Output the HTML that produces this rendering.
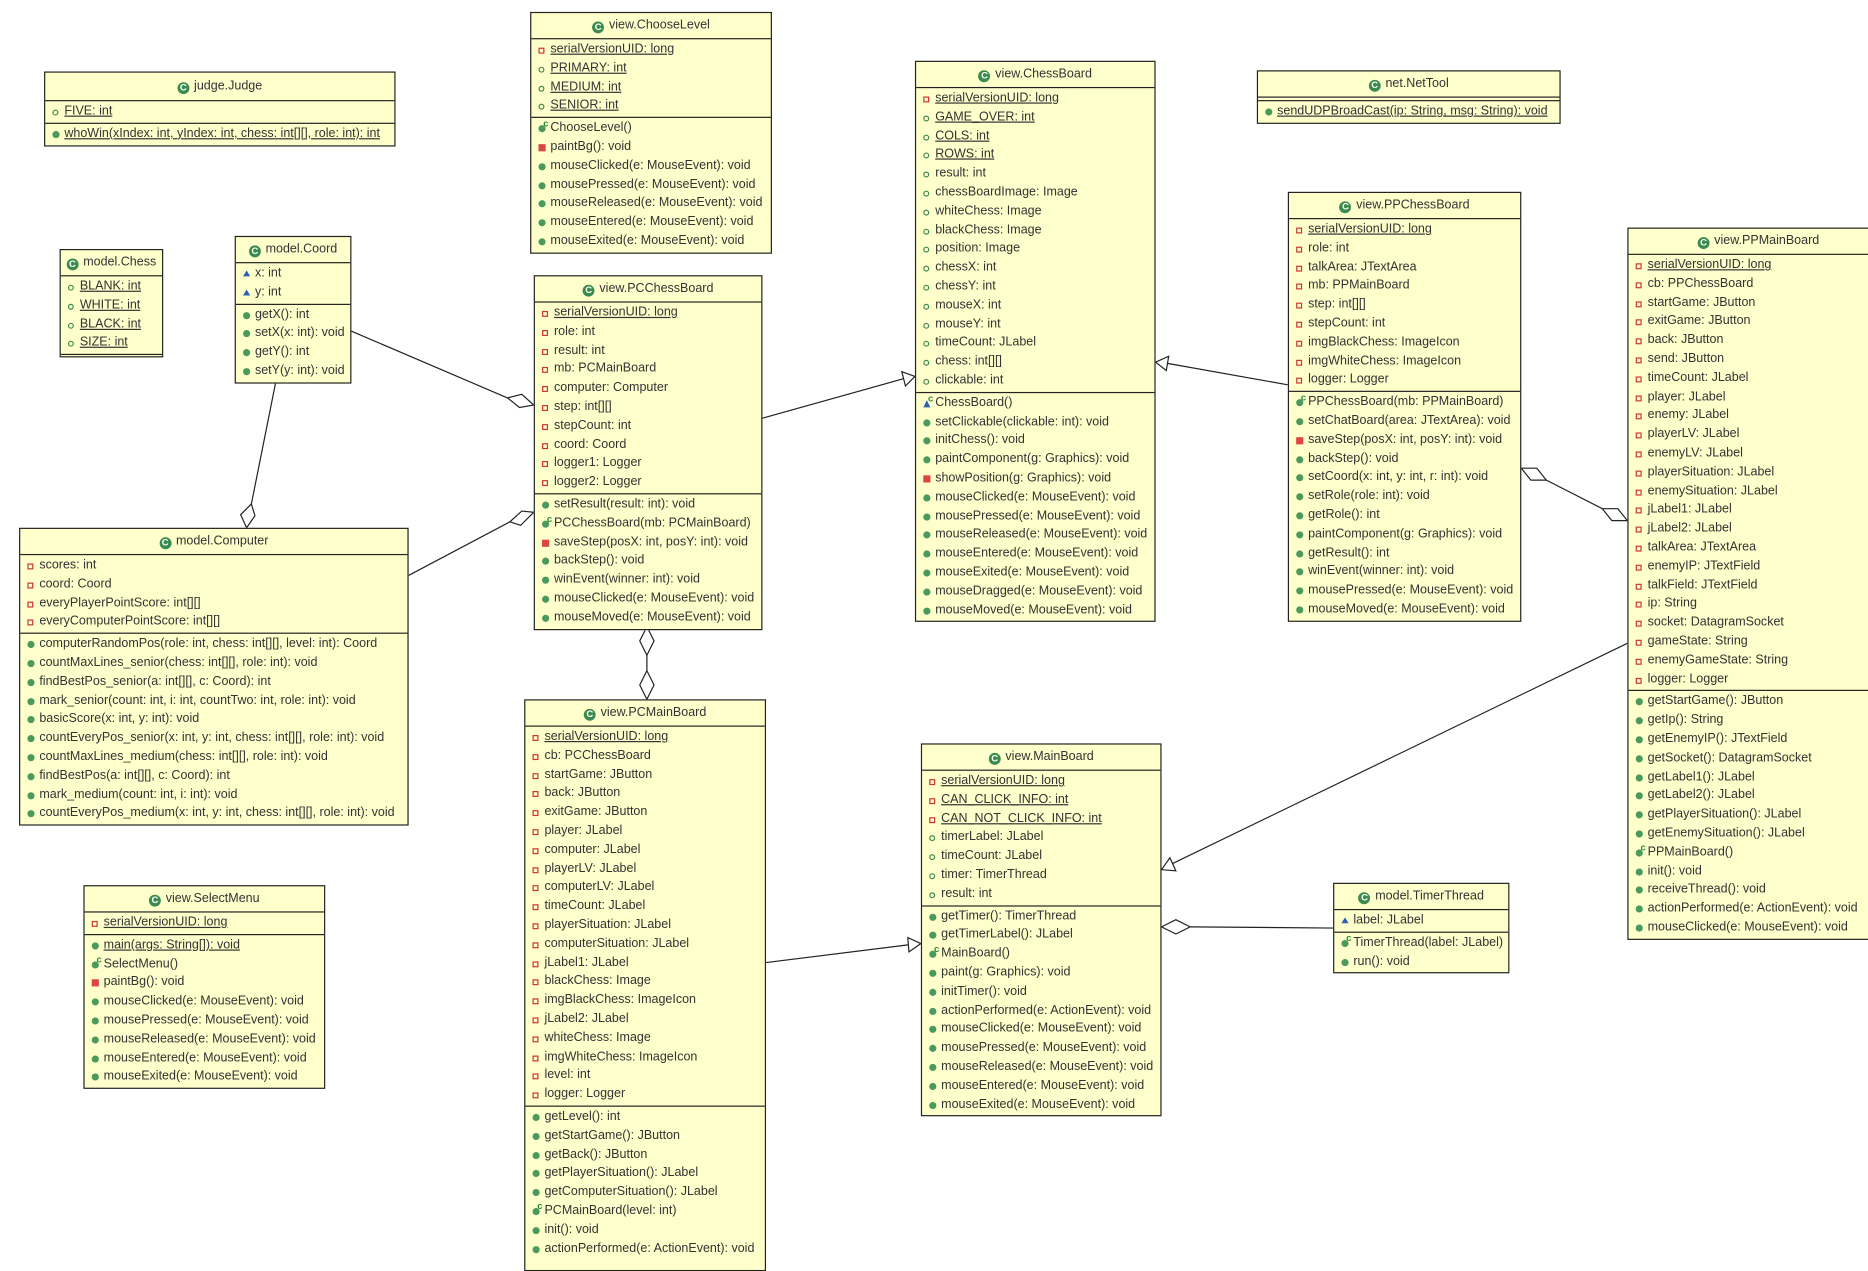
<!DOCTYPE html>
<html><head><meta charset="utf-8"><style>
html,body{margin:0;padding:0;background:#fff;width:1868px;height:1260px;overflow:hidden}
#w{position:absolute;left:0;top:0;width:1568px;height:1058px;transform:scale(1.19133);transform-origin:0 0;font-family:"Liberation Sans",sans-serif;font-size:10.5px;color:#333}
.b{position:absolute;background:#ffffcc;border:1px solid #222;box-sizing:border-box}
.h{height:21px;line-height:21px;text-align:center;color:#333}
.h:before{content:"C";display:inline-block;width:10px;height:10px;line-height:10px;border-radius:50%;background:#3b8a4e;color:#fff;font-size:8px;font-weight:bold;margin-right:4px;vertical-align:-1px}
.c{border-top:1px solid #222;padding:1px 0;min-height:2px}
.r{position:relative;height:15.8px;line-height:15.8px;padding-left:16px;white-space:nowrap}
.r:before{content:"";position:absolute;left:6px;top:6px;box-sizing:border-box}
.fp:before{width:5px;height:5px;border:1.3px solid #3b8a4e;border-radius:50%}
.mp:before{width:6px;height:6px;background:#4a9a5c;border-radius:50%;top:5px}
.fr:before{width:5px;height:5px;border:1.3px solid #c33}
.mr:before{width:6px;height:6px;background:#d44;top:5px}
.pt:before{width:0;height:0;border-left:3px solid transparent;border-right:3px solid transparent;border-bottom:5px solid #2a62b0;left:6px;top:5px}
.ct:after{content:"c";position:absolute;left:10px;top:-4px;font-size:8px;color:#2a8a3a;font-weight:bold}
.ct:before{width:6px;height:6px;background:#4a9a5c;border-radius:50%;top:5px}
.cp:after{content:"c";position:absolute;left:10px;top:-4px;font-size:8px;color:#2a8a3a;font-weight:bold}
.cp:before{width:0;height:0;border-left:3px solid transparent;border-right:3px solid transparent;border-bottom:6px solid #2a62b0;top:5px}
.u span{text-decoration:underline}
svg{position:absolute;left:0;top:0}
</style></head><body><div id="w">
<svg width="1568" height="1058" viewBox="0 0 1568 1058">
<g stroke="#222" stroke-width="1" fill="#fff">
<line x1="295" y1="278" x2="426" y2="334"/><polygon points="448,340 436,342 426,334 438,331"/>
<line x1="232" y1="318" x2="211" y2="423"/><polygon points="207,443 202,432 211,423 214,433"/>
<line x1="343" y1="483" x2="428" y2="438"/><polygon points="448,430 437,441 428,438 438,429"/>
<line x1="640" y1="351" x2="758" y2="318"/><polygon points="768,316 757,312 760,324"/>
<line x1="543" y1="550" x2="543" y2="563"/><polygon points="543,526 549,538 543,550 537,538"/><polygon points="543,563 549,575 543,587 537,575"/>
<line x1="643" y1="808" x2="763" y2="793"/><polygon points="773,792 762,787 763,799"/>
<line x1="1081" y1="323" x2="980" y2="305"/><polygon points="970,304 981,299 979,311"/>
<line x1="1298" y1="403" x2="1345" y2="427"/><polygon points="1277,393 1290,393 1298,403 1285,403"/><polygon points="1366,437 1353,437 1345,427 1358,427"/>
<line x1="1366" y1="540" x2="984" y2="725"/><polygon points="975,730 982,720 987,731"/>
<line x1="999" y1="778" x2="1119" y2="779"/><polygon points="975,778 987,772 999,778 987,784"/>
</g></svg>

<div class="b" style="left:37px;top:60px;width:295px"><div class="h" style="height:23px;line-height:23px">judge.Judge</div>
<div class="c"><div class="r fp u"><span>FIVE: int</span></div></div>
<div class="c"><div class="r mp u"><span>whoWin(xIndex: int, yIndex: int, chess: int[][], role: int): int</span></div></div></div>

<div class="b" style="left:50px;top:209px;width:87px"><div class="h">model.Chess</div>
<div class="c"><div class="r fp u"><span>BLANK: int</span></div><div class="r fp u"><span>WHITE: int</span></div><div class="r fp u"><span>BLACK: int</span></div><div class="r fp u"><span>SIZE: int</span></div></div>
<div class="c" style="min-height:1px;padding:0"></div></div>

<div class="b" style="left:197px;top:198px;width:98px"><div class="h">model.Coord</div>
<div class="c"><div class="r pt">x: int</div><div class="r pt">y: int</div></div>
<div class="c"><div class="r mp">getX(): int</div><div class="r mp">setX(x: int): void</div><div class="r mp">getY(): int</div><div class="r mp">setY(y: int): void</div></div></div>

<div class="b" style="left:16px;top:443px;width:327px"><div class="h">model.Computer</div>
<div class="c"><div class="r fr">scores: int</div><div class="r fr">coord: Coord</div><div class="r fr">everyPlayerPointScore: int[][]</div><div class="r fr">everyComputerPointScore: int[][]</div></div>
<div class="c"><div class="r mp">computerRandomPos(role: int, chess: int[][], level: int): Coord</div><div class="r mp">countMaxLines_senior(chess: int[][], role: int): void</div><div class="r mp">findBestPos_senior(a: int[][], c: Coord): int</div><div class="r mp">mark_senior(count: int, i: int, countTwo: int, role: int): void</div><div class="r mp">basicScore(x: int, y: int): void</div><div class="r mp">countEveryPos_senior(x: int, y: int, chess: int[][], role: int): void</div><div class="r mp">countMaxLines_medium(chess: int[][], role: int): void</div><div class="r mp">findBestPos(a: int[][], c: Coord): int</div><div class="r mp">mark_medium(count: int, i: int): void</div><div class="r mp">countEveryPos_medium(x: int, y: int, chess: int[][], role: int): void</div></div></div>

<div class="b" style="left:70px;top:743px;width:203px"><div class="h">view.SelectMenu</div>
<div class="c"><div class="r fr u"><span>serialVersionUID: long</span></div></div>
<div class="c"><div class="r mp u"><span>main(args: String[]): void</span></div><div class="r ct">SelectMenu()</div><div class="r mr">paintBg(): void</div><div class="r mp">mouseClicked(e: MouseEvent): void</div><div class="r mp">mousePressed(e: MouseEvent): void</div><div class="r mp">mouseReleased(e: MouseEvent): void</div><div class="r mp">mouseEntered(e: MouseEvent): void</div><div class="r mp">mouseExited(e: MouseEvent): void</div></div></div>

<div class="b" style="left:445px;top:10px;width:203px"><div class="h">view.ChooseLevel</div>
<div class="c"><div class="r fr u"><span>serialVersionUID: long</span></div><div class="r fp u"><span>PRIMARY: int</span></div><div class="r fp u"><span>MEDIUM: int</span></div><div class="r fp u"><span>SENIOR: int</span></div></div>
<div class="c"><div class="r ct">ChooseLevel()</div><div class="r mr">paintBg(): void</div><div class="r mp">mouseClicked(e: MouseEvent): void</div><div class="r mp">mousePressed(e: MouseEvent): void</div><div class="r mp">mouseReleased(e: MouseEvent): void</div><div class="r mp">mouseEntered(e: MouseEvent): void</div><div class="r mp">mouseExited(e: MouseEvent): void</div></div></div>

<div class="b" style="left:448px;top:231px;width:192px"><div class="h">view.PCChessBoard</div>
<div class="c"><div class="r fr u"><span>serialVersionUID: long</span></div><div class="r fr">role: int</div><div class="r fr">result: int</div><div class="r fr">mb: PCMainBoard</div><div class="r fr">computer: Computer</div><div class="r fr">step: int[][]</div><div class="r fr">stepCount: int</div><div class="r fr">coord: Coord</div><div class="r fr">logger1: Logger</div><div class="r fr">logger2: Logger</div></div>
<div class="c"><div class="r mp">setResult(result: int): void</div><div class="r ct">PCChessBoard(mb: PCMainBoard)</div><div class="r mr">saveStep(posX: int, posY: int): void</div><div class="r mp">backStep(): void</div><div class="r mp">winEvent(winner: int): void</div><div class="r mp">mouseClicked(e: MouseEvent): void</div><div class="r mp">mouseMoved(e: MouseEvent): void</div></div></div>

<div class="b" style="left:440px;top:587px;width:203px;height:480px;overflow:hidden"><div class="h">view.PCMainBoard</div>
<div class="c"><div class="r fr u"><span>serialVersionUID: long</span></div><div class="r fr">cb: PCChessBoard</div><div class="r fr">startGame: JButton</div><div class="r fr">back: JButton</div><div class="r fr">exitGame: JButton</div><div class="r fr">player: JLabel</div><div class="r fr">computer: JLabel</div><div class="r fr">playerLV: JLabel</div><div class="r fr">computerLV: JLabel</div><div class="r fr">timeCount: JLabel</div><div class="r fr">playerSituation: JLabel</div><div class="r fr">computerSituation: JLabel</div><div class="r fr">jLabel1: JLabel</div><div class="r fr">blackChess: Image</div><div class="r fr">imgBlackChess: ImageIcon</div><div class="r fr">jLabel2: JLabel</div><div class="r fr">whiteChess: Image</div><div class="r fr">imgWhiteChess: ImageIcon</div><div class="r fr">level: int</div><div class="r fr">logger: Logger</div></div>
<div class="c"><div class="r mp">getLevel(): int</div><div class="r mp">getStartGame(): JButton</div><div class="r mp">getBack(): JButton</div><div class="r mp">getPlayerSituation(): JLabel</div><div class="r mp">getComputerSituation(): JLabel</div><div class="r ct">PCMainBoard(level: int)</div><div class="r mp">init(): void</div><div class="r mp">actionPerformed(e: ActionEvent): void</div></div></div>

<div class="b" style="left:768px;top:51px;width:202px"><div class="h">view.ChessBoard</div>
<div class="c"><div class="r fr u"><span>serialVersionUID: long</span></div><div class="r fp u"><span>GAME_OVER: int</span></div><div class="r fp u"><span>COLS: int</span></div><div class="r fp u"><span>ROWS: int</span></div><div class="r fp">result: int</div><div class="r fp">chessBoardImage: Image</div><div class="r fp">whiteChess: Image</div><div class="r fp">blackChess: Image</div><div class="r fp">position: Image</div><div class="r fp">chessX: int</div><div class="r fp">chessY: int</div><div class="r fp">mouseX: int</div><div class="r fp">mouseY: int</div><div class="r fp">timeCount: JLabel</div><div class="r fp">chess: int[][]</div><div class="r fp">clickable: int</div></div>
<div class="c"><div class="r cp">ChessBoard()</div><div class="r mp">setClickable(clickable: int): void</div><div class="r mp">initChess(): void</div><div class="r mp">paintComponent(g: Graphics): void</div><div class="r mr">showPosition(g: Graphics): void</div><div class="r mp">mouseClicked(e: MouseEvent): void</div><div class="r mp">mousePressed(e: MouseEvent): void</div><div class="r mp">mouseReleased(e: MouseEvent): void</div><div class="r mp">mouseEntered(e: MouseEvent): void</div><div class="r mp">mouseExited(e: MouseEvent): void</div><div class="r mp">mouseDragged(e: MouseEvent): void</div><div class="r mp">mouseMoved(e: MouseEvent): void</div></div></div>

<div class="b" style="left:1055px;top:59px;width:255px"><div class="h">net.NetTool</div>
<div class="c" style="min-height:1px;padding:0;height:2px"></div>
<div class="c"><div class="r mp u"><span>sendUDPBroadCast(ip: String, msg: String): void</span></div></div></div>

<div class="b" style="left:1081px;top:161px;width:196px"><div class="h">view.PPChessBoard</div>
<div class="c"><div class="r fr u"><span>serialVersionUID: long</span></div><div class="r fr">role: int</div><div class="r fr">talkArea: JTextArea</div><div class="r fr">mb: PPMainBoard</div><div class="r fr">step: int[][]</div><div class="r fr">stepCount: int</div><div class="r fr">imgBlackChess: ImageIcon</div><div class="r fr">imgWhiteChess: ImageIcon</div><div class="r fr">logger: Logger</div></div>
<div class="c"><div class="r ct">PPChessBoard(mb: PPMainBoard)</div><div class="r mp">setChatBoard(area: JTextArea): void</div><div class="r mr">saveStep(posX: int, posY: int): void</div><div class="r mp">backStep(): void</div><div class="r mp">setCoord(x: int, y: int, r: int): void</div><div class="r mp">setRole(role: int): void</div><div class="r mp">getRole(): int</div><div class="r mp">paintComponent(g: Graphics): void</div><div class="r mp">getResult(): int</div><div class="r mp">winEvent(winner: int): void</div><div class="r mp">mousePressed(e: MouseEvent): void</div><div class="r mp">mouseMoved(e: MouseEvent): void</div></div></div>

<div class="b" style="left:1366px;top:191px;width:220px"><div class="h">view.PPMainBoard</div>
<div class="c"><div class="r fr u"><span>serialVersionUID: long</span></div><div class="r fr">cb: PPChessBoard</div><div class="r fr">startGame: JButton</div><div class="r fr">exitGame: JButton</div><div class="r fr">back: JButton</div><div class="r fr">send: JButton</div><div class="r fr">timeCount: JLabel</div><div class="r fr">player: JLabel</div><div class="r fr">enemy: JLabel</div><div class="r fr">playerLV: JLabel</div><div class="r fr">enemyLV: JLabel</div><div class="r fr">playerSituation: JLabel</div><div class="r fr">enemySituation: JLabel</div><div class="r fr">jLabel1: JLabel</div><div class="r fr">jLabel2: JLabel</div><div class="r fr">talkArea: JTextArea</div><div class="r fr">enemyIP: JTextField</div><div class="r fr">talkField: JTextField</div><div class="r fr">ip: String</div><div class="r fr">socket: DatagramSocket</div><div class="r fr">gameState: String</div><div class="r fr">enemyGameState: String</div><div class="r fr">logger: Logger</div></div>
<div class="c"><div class="r mp">getStartGame(): JButton</div><div class="r mp">getIp(): String</div><div class="r mp">getEnemyIP(): JTextField</div><div class="r mp">getSocket(): DatagramSocket</div><div class="r mp">getLabel1(): JLabel</div><div class="r mp">getLabel2(): JLabel</div><div class="r mp">getPlayerSituation(): JLabel</div><div class="r mp">getEnemySituation(): JLabel</div><div class="r ct">PPMainBoard()</div><div class="r mp">init(): void</div><div class="r mp">receiveThread(): void</div><div class="r mp">actionPerformed(e: ActionEvent): void</div><div class="r mp">mouseClicked(e: MouseEvent): void</div></div></div>

<div class="b" style="left:773px;top:624px;width:202px"><div class="h">view.MainBoard</div>
<div class="c"><div class="r fr u"><span>serialVersionUID: long</span></div><div class="r fr u"><span>CAN_CLICK_INFO: int</span></div><div class="r fr u"><span>CAN_NOT_CLICK_INFO: int</span></div><div class="r fp">timerLabel: JLabel</div><div class="r fp">timeCount: JLabel</div><div class="r fp">timer: TimerThread</div><div class="r fp">result: int</div></div>
<div class="c"><div class="r mp">getTimer(): TimerThread</div><div class="r mp">getTimerLabel(): JLabel</div><div class="r ct">MainBoard()</div><div class="r mp">paint(g: Graphics): void</div><div class="r mp">initTimer(): void</div><div class="r mp">actionPerformed(e: ActionEvent): void</div><div class="r mp">mouseClicked(e: MouseEvent): void</div><div class="r mp">mousePressed(e: MouseEvent): void</div><div class="r mp">mouseReleased(e: MouseEvent): void</div><div class="r mp">mouseEntered(e: MouseEvent): void</div><div class="r mp">mouseExited(e: MouseEvent): void</div></div></div>

<div class="b" style="left:1119px;top:741px;width:148px"><div class="h">model.TimerThread</div>
<div class="c"><div class="r pt">label: JLabel</div></div>
<div class="c"><div class="r ct">TimerThread(label: JLabel)</div><div class="r mp">run(): void</div></div></div>
</div></body></html>
